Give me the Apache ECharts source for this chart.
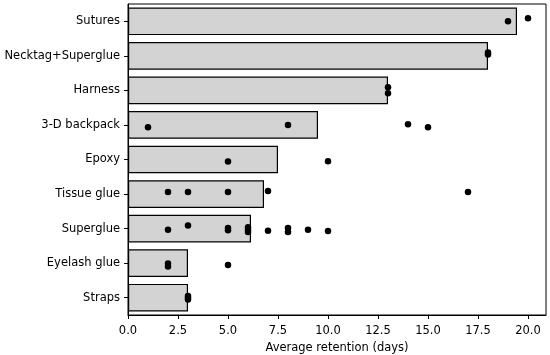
<!DOCTYPE html>
<html>
<head>
<meta charset="utf-8">
<script src="https://cdn.jsdelivr.net/npm/echarts@6/dist/echarts.min.js"></script>
<style>
  html, body { margin: 0; padding: 0; background: #fff; }
  #main { width: 550px; height: 355px; }
</style>
</head>
<body>
<div id="main"></div>
<script>
// categories, top to bottom
var categories = ['Sutures', 'Necktag+Superglue', 'Harness', '3-D backpack', 'Epoxy',
    'Tissue glue', 'Superglue', 'Eyelash glue', 'Straps'];
// bar length = average retention (days)
var meanRetention = [19.45, 18.0, 13.0, 9.5, 7.5, 6.8, 6.15, 3.0, 3.0];

// individual observations: category index, days, vertical jitter
var pointCategory = [0, 0, 1, 1, 2, 2, 3, 3, 3, 3, 4, 4, 5, 5, 5, 5, 5,
    6, 6, 6, 6, 6, 6, 6, 6, 6, 6, 6, 6, 7, 7, 7, 8, 8, 8];
var pointDays = [19, 20, 18, 18, 13, 13, 1, 8, 14, 15, 5, 10, 2, 3, 5, 7, 17,
    2, 3, 5, 5, 6, 6, 6, 7, 8, 8, 9, 10, 2, 2, 5, 3, 3, 3];
var pointJitter = [0, -0.09, -0.1, -0.04, -0.09, 0.08, 0.07, 0, -0.02, 0.07, 0.06, 0.05,
    -0.06, -0.06, -0.06, -0.09, -0.06,
    0.03, -0.09, -0.02, 0.05, -0.04, 0.03, 0.1, 0.06, -0.02, 0.1, 0.03, 0.07,
    0.01, 0.1, 0.05, -0.05, 0, 0.05];

var xTicks = [0, 2.5, 5, 7.5, 10, 12.5, 15, 17.5, 20];

var points = [];
for (var i = 0; i < pointDays.length; i++) {
    points.push([pointDays[i], pointCategory[i] + pointJitter[i]]);
}

var font = 'DejaVu Sans';
var myChart = echarts.init(document.getElementById('main'));

var option = {
    animation: false,
    grid: {
        left: 128, right: 4, top: 4, bottom: 40,
        outerBoundsMode: 'none',
        containLabel: false,
        show: true, borderColor: '#000', borderWidth: 1
    },
    xAxis: {
        type: 'value',
        min: 0,
        max: 20.9,
        interval: 2.5,
        name: 'Average retention (days)',
        nameLocation: 'middle',
        nameGap: 24,
        nameTextStyle: { fontFamily: font, fontSize: 11.5, color: '#000' },
        axisLine: { show: true, onZero: false, lineStyle: { color: '#000', width: 1 } },
        axisTick: { show: true, length: 4, lineStyle: { color: '#000' } },
        axisLabel: {
            fontFamily: font, fontSize: 11.5, color: '#000', margin: 10,
            showMaxLabel: false,
            formatter: function (v) { return xTicks.indexOf(v) >= 0 ? v.toFixed(1) : ''; }
        },
        splitLine: { show: false }
    },
    yAxis: [{
        type: 'category',
        data: categories,
        inverse: true,
        axisLine: { show: true, onZero: false, lineStyle: { color: '#000', width: 1 } },
        axisTick: { show: true, alignWithLabel: true, length: 4, lineStyle: { color: '#000' } },
        axisLabel: { fontFamily: font, fontSize: 11.5, color: '#000', margin: 8 }
    }, {
        type: 'value',
        min: -0.5,
        max: 8.5,
        inverse: true,
        show: false
    }],
    series: [{
        name: 'mean',
        type: 'bar',
        data: meanRetention,
        barCategoryGap: '20%',
        itemStyle: { color: '#d3d3d3', borderColor: '#000', borderWidth: 1.2 },
        z: 2
    }, {
        name: 'obs',
        type: 'scatter',
        yAxisIndex: 1,
        data: points,
        symbolSize: 6.5,
        itemStyle: { color: '#000', opacity: 1 },
        z: 3
    }]
};

myChart.setOption(option);
</script>
</body>
</html>
